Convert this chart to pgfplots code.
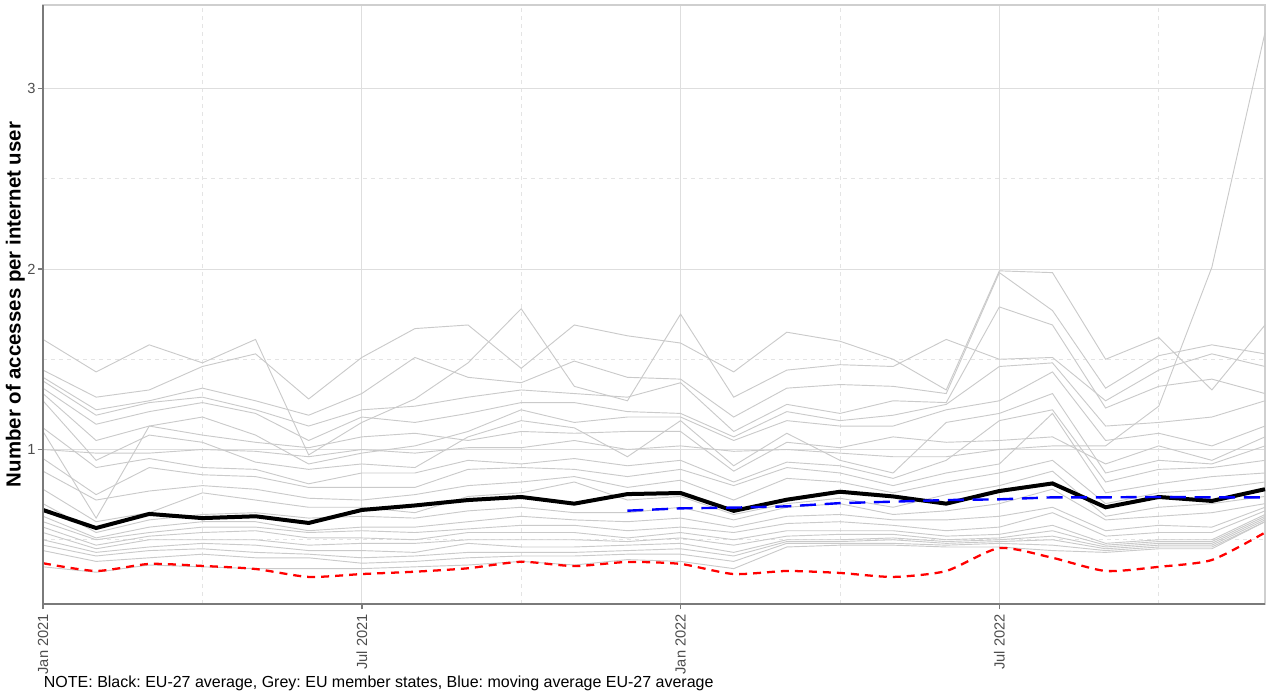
\documentclass[border=0pt]{standalone}
\usepackage{pgfplots}
\usepackage{pgfplotstable}
\pgfplotsset{compat=1.18}
\usepackage{fontspec}
\setmainfont{Liberation Sans}
\frenchspacing
\definecolor{gridmaj}{HTML}{DEDEDE}
\definecolor{gridmin}{HTML}{E4E4E4}
\definecolor{greyline}{HTML}{CACACA}
\definecolor{ticktext}{HTML}{4D4D4D}
\definecolor{axisdark}{HTML}{7A7A7A}
\definecolor{framecol}{HTML}{CFCFCF}

% grey lines: EU member states (g0..g19, s1, s6)
\pgfplotstableread{
m g0 g1 g2 g3 g4 g5 g6 g7 g8 g9 g10 g11 g12 g13 g14 g15 g16 g17 g18 g19 s1 s6
0 1.61 1.44 1.40 1.38 1.34 1.31 1.27 1.12 0.95 0.88 0.78 0.70 0.63 0.60 0.57 0.54 0.50 0.47 0.44 0.35 1.00 1.10
1 1.43 1.29 1.22 1.19 1.14 1.05 0.94 0.90 0.75 0.72 0.60 0.54 0.51 0.50 0.47 0.45 0.43 0.41 0.38 0.32 0.98 0.62
2 1.58 1.33 1.27 1.26 1.21 1.13 1.08 0.95 0.90 0.77 0.65 0.61 0.57 0.54 0.52 0.50 0.46 0.44 0.40 0.36 0.98 1.13
3 1.48 1.46 1.34 1.29 1.26 1.18 1.04 0.90 0.86 0.80 0.76 0.64 0.60 0.57 0.54 0.50 0.48 0.45 0.42 0.35 1.00 1.08
4 1.61 1.53 1.27 1.22 1.20 1.08 0.93 0.89 0.85 0.78 0.72 0.65 0.60 0.57 0.55 0.50 0.47 0.43 0.40 0.34 0.99 1.04
5 0.97 1.28 1.19 1.13 1.05 0.92 0.89 0.81 0.79 0.73 0.68 0.62 0.55 0.54 0.51 0.47 0.44 0.42 0.40 0.34 0.96 1.01
6 1.15 1.51 1.31 1.22 1.18 0.98 0.92 0.87 0.79 0.72 0.68 0.63 0.57 0.55 0.51 0.48 0.44 0.40 0.37 0.34 1.00 1.07
7 1.28 1.67 1.51 1.24 1.15 1.02 0.90 0.87 0.79 0.75 0.65 0.62 0.57 0.54 0.50 0.48 0.43 0.41 0.38 0.35 0.98 1.09
8 1.48 1.69 1.40 1.29 1.20 1.10 1.07 0.94 0.89 0.80 0.74 0.66 0.60 0.56 0.54 0.50 0.48 0.43 0.40 0.36 1.01 1.05
9 1.78 1.45 1.37 1.33 1.26 1.22 1.16 0.92 0.90 0.82 0.76 0.68 0.63 0.58 0.54 0.50 0.46 0.43 0.41 0.38 1.01 1.10
10 1.35 1.69 1.49 1.31 1.26 1.15 1.12 0.95 0.89 0.85 0.82 0.65 0.61 0.58 0.54 0.50 0.46 0.43 0.41 0.36 1.05 1.09
11 1.27 1.63 1.40 1.29 1.21 1.18 0.96 0.91 0.85 0.79 0.72 0.65 0.60 0.55 0.51 0.49 0.47 0.44 0.42 0.39 1.00 1.10
12 1.75 1.59 1.39 1.37 1.20 1.18 1.16 0.94 0.89 0.83 0.74 0.68 0.62 0.57 0.54 0.51 0.48 0.45 0.42 0.38 1.02 1.10
13 1.29 1.43 1.18 1.10 1.07 1.05 0.91 0.82 0.80 0.72 0.64 0.61 0.57 0.54 0.50 0.47 0.43 0.41 0.38 0.34 0.99 0.88
14 1.44 1.65 1.34 1.25 1.21 1.16 1.09 0.93 0.90 0.84 0.70 0.68 0.63 0.59 0.55 0.52 0.50 0.49 0.48 0.46 1.00 1.04
15 1.47 1.60 1.36 1.20 1.16 1.13 0.94 0.91 0.87 0.82 0.73 0.70 0.64 0.60 0.55 0.53 0.50 0.49 0.48 0.47 0.98 1.01
16 1.46 1.50 1.35 1.27 1.19 1.13 0.87 0.84 0.80 0.76 0.68 0.64 0.61 0.58 0.55 0.53 0.51 0.50 0.48 0.47 0.96 1.07
17 1.61 1.33 1.31 1.26 1.25 1.22 1.15 0.94 0.87 0.82 0.75 0.66 0.61 0.55 0.52 0.50 0.49 0.48 0.47 0.46 0.96 1.04
18 1.50 1.99 1.98 1.79 1.46 1.27 1.20 1.16 0.92 0.87 0.80 0.70 0.63 0.57 0.53 0.51 0.50 0.49 0.48 0.46 1.00 1.05
19 1.51 1.98 1.77 1.69 1.48 1.43 1.31 1.22 1.20 0.94 0.88 0.78 0.68 0.65 0.58 0.55 0.52 0.50 0.47 0.44 1.02 1.07
20 1.27 1.50 1.34 1.23 1.13 1.05 0.87 0.82 0.76 0.70 0.63 0.61 0.55 0.52 0.48 0.47 0.46 0.45 0.44 0.43 1.02 0.92
21 1.44 1.62 1.52 1.35 1.15 1.09 0.94 0.89 0.81 0.76 0.68 0.63 0.58 0.54 0.50 0.49 0.48 0.47 0.46 0.45 1.24 1.02
22 1.53 1.33 1.58 1.39 1.18 1.02 0.92 0.90 0.85 0.78 0.70 0.65 0.57 0.54 0.50 0.49 0.48 0.47 0.46 0.45 2.01 0.94
23 1.46 1.69 1.53 1.31 1.27 1.13 1.02 0.94 0.87 0.82 0.74 0.70 0.68 0.66 0.64 0.63 0.62 0.61 0.60 0.60 3.31 1.07
}\greydata

% EU-27 average (black) and the red series
\pgfplotstableread{
m avg red
0 0.665 0.370
1 0.565 0.327
2 0.643 0.366
3 0.620 0.355
4 0.630 0.338
5 0.593 0.294
6 0.665 0.310
7 0.690 0.323
8 0.720 0.342
9 0.737 0.378
10 0.700 0.354
11 0.753 0.377
12 0.759 0.366
13 0.660 0.310
14 0.722 0.327
15 0.766 0.316
16 0.740 0.294
17 0.700 0.327
18 0.770 0.454
19 0.812 0.400
20 0.680 0.327
21 0.737 0.350
22 0.715 0.388
23 0.780 0.540
}\maindata

% moving average EU-27 (blue)
\pgfplotstableread{
m mavg
11 0.661
12 0.674
13 0.678
14 0.685
15 0.703
16 0.711
17 0.720
18 0.724
19 0.735
20 0.735
21 0.737
22 0.735
23 0.735
}\movdata

\begin{document}
\begin{tikzpicture}
\useasboundingbox (-32.25pt,-69pt) rectangle (920.25pt,453pt);
\begin{axis}[
  scale only axis, width=916.5pt, height=449.25pt,
  xmin=0, xmax=23, ymin=0.144, ymax=3.463,
  clip=false,
  xtick={0,6,12,18},
  xticklabels={Jan 2021, Jul 2021, Jan 2022, Jul 2022},
  minor xtick={3,9,15,21},
  ytick={1,2,3}, minor ytick={0.5,1.5,2.5},
  grid=both,
  major grid style={gridmaj, line width=0.6pt},
  minor grid style={gridmin, dashed, line width=0.5pt},
  axis line style={framecol, line width=0.8pt},
  tick pos=left,
  tick align=outside,
  major tick length=4pt, minor tick length=0pt,
  major tick style={axisdark, line width=1.1pt},
  /pgf/number format/assume math mode=true,
  xticklabel style={rotate=90, anchor=east, font=\fontsize{11}{13}\selectfont, text=ticktext},
  yticklabel style={font=\fontsize{11}{13}\selectfont, text=ticktext, xshift=2pt},
  ylabel={Number of accesses per internet user},
  ylabel style={font=\fontsize{15.3}{18}\selectfont\bfseries, at={(rel axis cs:-0.0147,0.5)}, anchor=south, inner sep=0pt},
]
\pgfplotsinvokeforeach{0,...,19}{
  \addplot[greyline, line width=0.7pt, forget plot] table[x=m, y=g#1]{\greydata};
}
\addplot[greyline, line width=0.7pt] table[x=m, y=s1]{\greydata};
\addplot[greyline, line width=0.7pt] table[x=m, y=s6]{\greydata};
\addplot[black, line width=3pt] table[x=m, y=avg]{\maindata};
\addplot[red, line width=1.7pt, dash pattern=on 6pt off 4.5pt, smooth, tension=0.4] table[x=m, y=red]{\maindata};
\addplot[blue, line width=1.8pt, dash pattern=on 12pt off 6.5pt] table[x=m, y=mavg]{\movdata};
\draw[axisdark, line width=1.1pt] (rel axis cs:0,1) -- (rel axis cs:0,0) -- (rel axis cs:1,0);
\end{axis}
\node[anchor=base west, inner sep=0pt, font=\fontsize{12}{14}\selectfont] at (0.5pt,-62.25pt) {NOTE: Black: EU-27 average, Grey: EU member states, Blue: moving average EU-27 average};
\end{tikzpicture}
\end{document}
